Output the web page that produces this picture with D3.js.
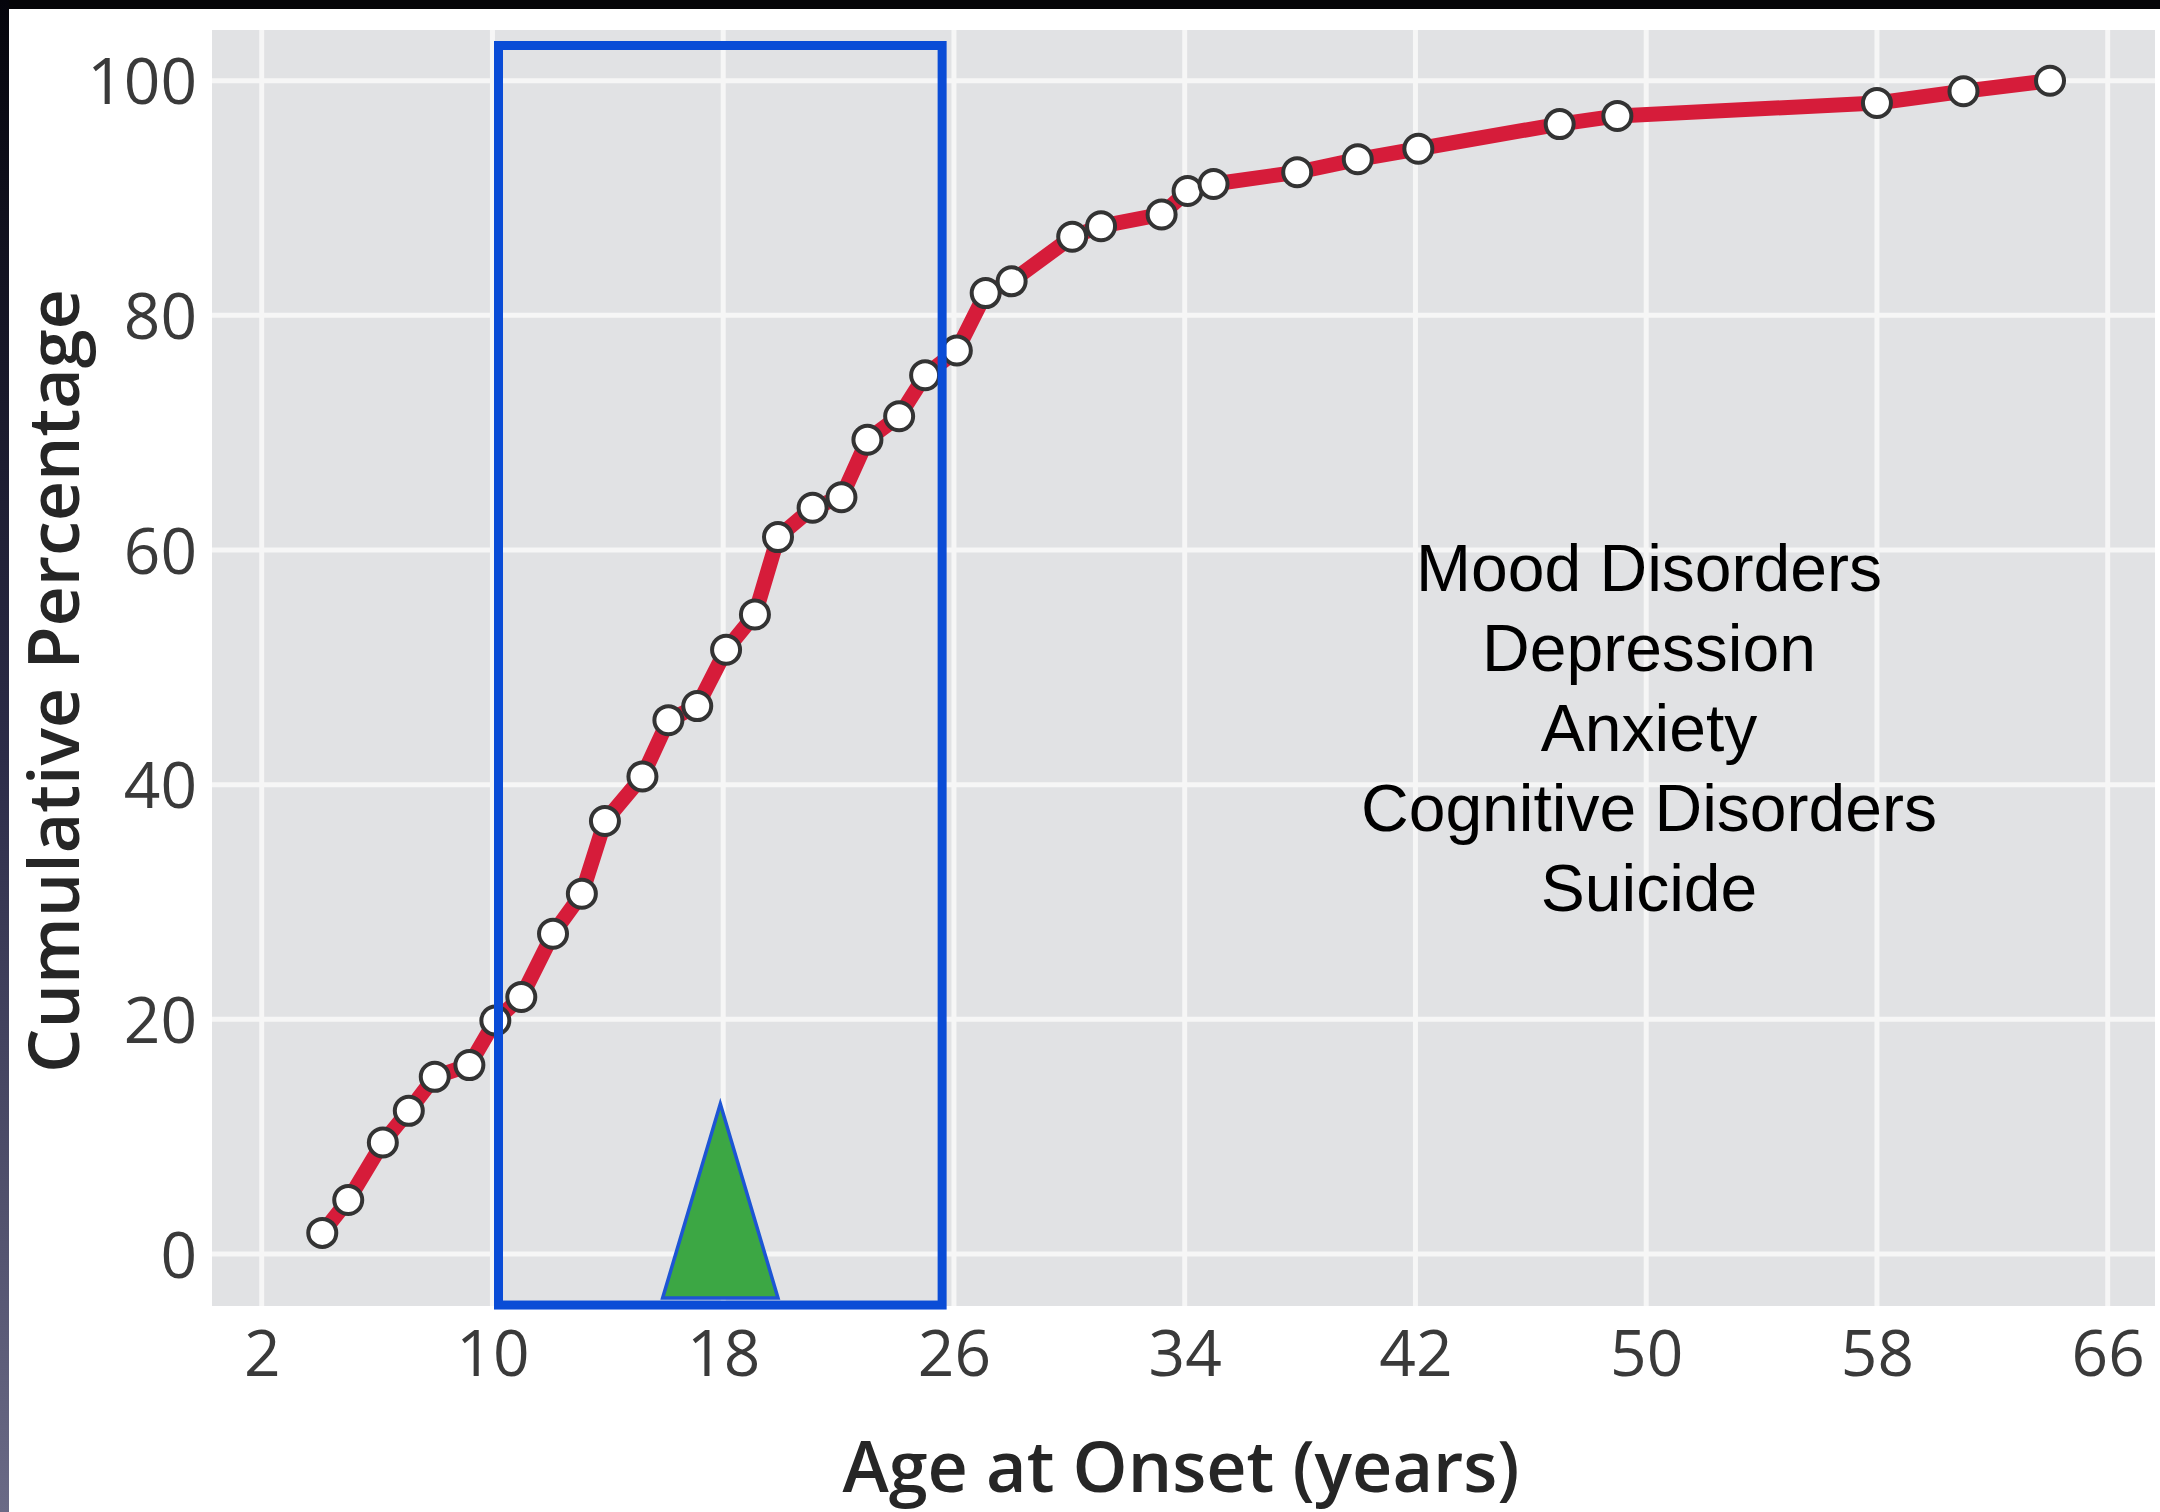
<!DOCTYPE html>
<html>
<head>
<meta charset="utf-8">
<script src="https://cdn.jsdelivr.net/npm/d3@7"></script>
<style>
  html, body { margin: 0; padding: 0; background: #ffffff; }
  svg { display: block; }
</style>
</head>
<body>
<svg id="chart" width="2160" height="1512"></svg>
<script>
// ---- data ----
const ages = [4.1, 5.0, 6.2, 7.1, 8.0, 9.2, 10.1, 11.0, 12.1, 13.1, 13.9, 15.2, 16.1, 17.1, 18.1, 19.1,
              19.9, 21.1, 22.1, 23.0, 24.1, 25.0, 26.1, 27.1, 28.0, 30.1, 31.1, 33.2, 34.1, 35.0,
              37.9, 40.0, 42.1, 47.0, 49.0, 58.0, 61.0, 64.0];
const cumulativePct = [1.8, 4.6, 9.5, 12.2, 15.1, 16.1, 19.9, 21.9, 27.3, 30.7, 36.9, 40.7, 45.5, 46.7, 51.5, 54.5,
              61.1, 63.6, 64.5, 69.4, 71.4, 74.9, 77.0, 81.9, 82.9, 86.7, 87.6, 88.6, 90.6, 91.2,
              92.2, 93.3, 94.2, 96.3, 97.0, 98.1, 99.1, 100.0];
const xTicks = [2, 10, 18, 26, 34, 42, 50, 58, 66];
const yTicks = [0, 20, 40, 60, 80, 100];
const annotationLines = ["Mood Disorders", "Depression", "Anxiety", "Cognitive Disorders", "Suicide"];
const highlightAgeRange = [10.21, 25.59];
const highlightPctRange = [-4.35, 103.0];
const peakAge = 17.9;
const peakBaseAges = [15.9, 19.9];
const peakPctRange = [-3.75, 12.8];
const xLabel = "Age at Onset (years)";
const yLabel = "Cumulative Percentage";

// ---- layout ----
const svg = d3.select("#chart");
const panel = { left: 212, right: 2155, top: 30, bottom: 1306 };

const x = d3.scaleLinear().domain([2, 66]).range([261.7, 2107.7]);
const y = d3.scaleLinear().domain([0, 100]).range([1254, 80.7]);

// frame edges (dark borders of the screenshot)
const defs = svg.append("defs");
const grad = defs.append("linearGradient").attr("id", "leftEdge")
  .attr("x1", 0).attr("y1", 0).attr("x2", 0).attr("y2", 1);
grad.append("stop").attr("offset", "0%").attr("stop-color", "#05050c");
grad.append("stop").attr("offset", "50%").attr("stop-color", "#2c2c48");
grad.append("stop").attr("offset", "100%").attr("stop-color", "#6a6a86");

svg.append("rect").attr("x", 0).attr("y", 0).attr("width", 2160).attr("height", 1512).attr("fill", "#ffffff");
svg.append("rect").attr("x", 0).attr("y", 0).attr("width", 2160).attr("height", 9).attr("fill", "#050508");
svg.append("rect").attr("x", 0).attr("y", 0).attr("width", 9).attr("height", 1512).attr("fill", "url(#leftEdge)");

// panel
svg.append("rect")
  .attr("x", panel.left).attr("y", panel.top)
  .attr("width", panel.right - panel.left).attr("height", panel.bottom - panel.top)
  .attr("fill", "#e1e2e4");

// gridlines
const grid = svg.append("g");
grid.selectAll("line.v").data(xTicks).enter().append("line")
  .attr("x1", d => x(d)).attr("x2", d => x(d))
  .attr("y1", panel.top).attr("y2", panel.bottom)
  .attr("stroke", "#f6f6f6").attr("stroke-width", 5);
grid.selectAll("line.h").data(yTicks).enter().append("line")
  .attr("y1", d => y(d)).attr("y2", d => y(d))
  .attr("x1", panel.left).attr("x2", panel.right)
  .attr("stroke", "#f6f6f6").attr("stroke-width", 5);

// axes (labels only)
const tickFont = "'Open Sans', 'DejaVu Sans', sans-serif";
const yAxis = svg.append("g").attr("transform", "translate(197,0)")
  .call(d3.axisLeft(y).tickValues(yTicks).tickSize(0).tickPadding(0).tickFormat(d3.format("d")));
yAxis.select(".domain").remove();
yAxis.selectAll("text")
  .attr("font-family", tickFont).attr("font-size", 64).attr("fill", "#3a3a3a")
  .attr("x", 0).attr("dy", "0.36em").attr("text-anchor", "end");

const xAxis = svg.append("g").attr("transform", "translate(0,1376)")
  .call(d3.axisBottom(x).tickValues(xTicks).tickSize(0).tickPadding(0).tickFormat(d3.format("d")));
xAxis.select(".domain").remove();
xAxis.selectAll("text")
  .attr("font-family", tickFont).attr("font-size", 64).attr("fill", "#3a3a3a")
  .attr("y", 0).attr("dy", 0).attr("text-anchor", "middle");

// axis titles
svg.append("text")
  .attr("x", 1181).attr("y", 1492)
  .attr("text-anchor", "middle")
  .attr("font-family", tickFont).attr("font-weight", 600).attr("font-size", 70)
  .attr("fill", "#262626")
  .text(xLabel);
svg.append("text")
  .attr("transform", "translate(79,681) rotate(-90)")
  .attr("text-anchor", "middle")
  .attr("font-family", tickFont).attr("font-weight", 600).attr("font-size", 70)
  .attr("fill", "#262626")
  .text(yLabel);

// line + markers
const pts = ages.map((a, i) => [a, cumulativePct[i]]);
const line = d3.line().x(d => x(d[0])).y(d => y(d[1]));
svg.append("path")
  .datum(pts)
  .attr("d", line)
  .attr("fill", "none")
  .attr("stroke", "#d61c3a")
  .attr("stroke-width", 15)
  .attr("stroke-linejoin", "round")
  .attr("stroke-linecap", "round");

svg.append("g").selectAll("circle").data(pts).enter().append("circle")
  .attr("cx", d => x(d[0])).attr("cy", d => y(d[1]))
  .attr("r", 14)
  .attr("fill", "#ffffff")
  .attr("stroke", "#333333")
  .attr("stroke-width", 4);

// annotation text
const ann = svg.append("text")
  .attr("text-anchor", "middle")
  .attr("font-family", "'Liberation Sans', Arial, sans-serif")
  .attr("font-size", 66)
  .attr("fill", "#000000");
annotationLines.forEach((t, i) => {
  ann.append("tspan").attr("x", 1649).attr("y", 591 + i * 80).text(t);
});

// highlight rectangle
svg.append("rect")
  .attr("x", x(highlightAgeRange[0])).attr("y", y(highlightPctRange[1]))
  .attr("width", x(highlightAgeRange[1]) - x(highlightAgeRange[0]))
  .attr("height", y(highlightPctRange[0]) - y(highlightPctRange[1]))
  .attr("fill", "none")
  .attr("stroke", "#0a4cd6")
  .attr("stroke-width", 9);

// peak triangle
const tri = [[peakBaseAges[0], peakPctRange[0]], [peakAge, peakPctRange[1]], [peakBaseAges[1], peakPctRange[0]]];
svg.append("path")
  .attr("d", d3.line().x(d => x(d[0])).y(d => y(d[1]))(tri) + "Z")
  .attr("fill", "#3ca744")
  .attr("stroke", "#1d55d4")
  .attr("stroke-width", 3.5)
  .attr("stroke-linejoin", "miter");
</script>
</body>
</html>
